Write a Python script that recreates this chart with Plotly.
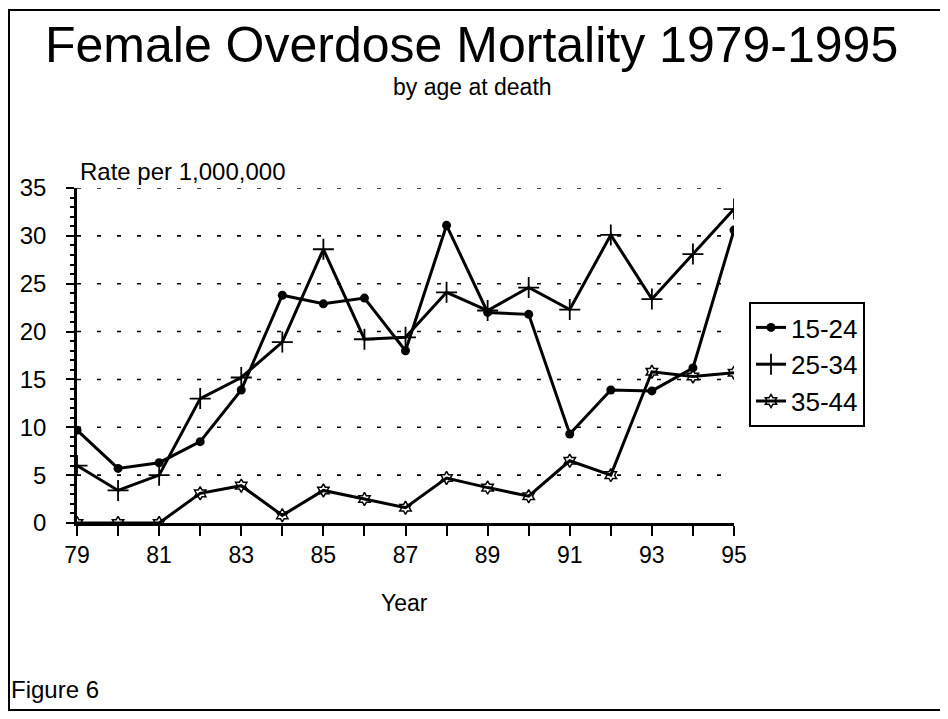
import plotly.graph_objects as go

years = list(range(79, 96))
x_tick_labels = ["79", "", "81", "", "83", "", "85", "", "87", "", "89", "", "91", "", "93", "", "95"]
y_tick_values = [0, 5, 10, 15, 20, 25, 30, 35]
y_grid_values = [5, 10, 15, 20, 25, 30, 35]

age_15_24 = [9.7, 5.7, 6.3, 8.5, 13.9, 23.8, 22.9, 23.5, 18.0, 31.1, 22.0, 21.8, 9.3, 13.9, 13.8, 16.2, 30.6]
age_25_34 = [6.0, 3.4, 5.0, 13.0, 15.2, 18.9, 28.6, 19.2, 19.4, 24.1, 22.2, 24.6, 22.3, 30.1, 23.4, 28.1, 32.8]
age_35_44 = [0.0, 0.0, 0.0, 3.1, 3.9, 0.8, 3.4, 2.5, 1.6, 4.7, 3.7, 2.8, 6.5, 5.0, 15.8, 15.3, 15.7]

FONT = "Liberation Sans, Arial, Helvetica, sans-serif"
OFF = 8  # page body margin
W, H = 940, 711
PX0, PX1 = 77, 734   # page x of plot area
PY0, PY1 = 188, 523  # page y of plot area (top, bottom)
L = PX0 - OFF
T = PY0 - OFF
PW = PX1 - PX0
PH = PY1 - PY0
R = W - L - PW
B = H - T - PH

def px(x):
    return (x - PX0) / PW

def py(y):
    return (PY1 - y) / PH

fig = go.Figure()
fig.add_trace(go.Scatter(x=years, y=age_15_24, name="15-24", mode="lines+markers",
                         line=dict(color="black", width=3),
                         marker=dict(symbol="circle", size=9, color="black")))
fig.add_trace(go.Scatter(x=years, y=age_25_34, name="25-34", mode="lines+markers",
                         line=dict(color="black", width=3),
                         marker=dict(symbol="cross-thin-open", size=15, color="black",
                                     line=dict(color="black", width=1.8))))
fig.add_trace(go.Scatter(x=years, y=age_35_44, name="35-44", mode="lines+markers",
                         line=dict(color="black", width=3),
                         marker=dict(symbol="hexagram-open", size=10, color="black",
                                     line=dict(color="black", width=1.5))))

shapes = []
for v in y_grid_values:
    shapes.append(dict(type="line", xref="paper", yref="y", x0=0, x1=0.985, y0=v, y1=v,
                       line=dict(color="black", width=1.6, dash="4px,16px"), layer="below"))
shapes.append(dict(type="rect", xref="paper", yref="paper",
                   x0=px(OFF + 1), x1=px(943), y0=py(710), y1=py(OFF + 2),
                   line=dict(color="black", width=2)))

annotations = [
    dict(text="Female Overdose Mortality 1979-1995", x=px(471), y=py(45), xref="paper", yref="paper",
         showarrow=False, xanchor="center", yanchor="middle", font=dict(family=FONT, size=50, color="black")),
    dict(text="by age at death", x=px(472), y=py(87), xref="paper", yref="paper",
         showarrow=False, xanchor="center", yanchor="middle", font=dict(family=FONT, size=23, color="black")),
    dict(text="Rate per 1,000,000", x=px(78), y=py(171), xref="paper", yref="paper",
         showarrow=False, xanchor="left", yanchor="middle", font=dict(family=FONT, size=24, color="black")),
    dict(text="Year", x=px(404), y=py(603), xref="paper", yref="paper",
         showarrow=False, xanchor="center", yanchor="middle", font=dict(family=FONT, size=23, color="black")),
    dict(text="Figure 6", x=px(OFF + 1), y=py(689), xref="paper", yref="paper",
         showarrow=False, xanchor="left", yanchor="middle", font=dict(family=FONT, size=24, color="black")),
]

fig.update_layout(
    width=W, height=H,
    margin=dict(l=L, r=R, t=T, b=B, pad=0),
    paper_bgcolor="white", plot_bgcolor="white",
    font=dict(family=FONT, size=23, color="black"),
    showlegend=True,
    legend=dict(x=px(749), y=py(302), xanchor="left", yanchor="top",
                bordercolor="black", borderwidth=2, bgcolor="white",
                font=dict(family=FONT, size=26, color="black"),
                itemwidth=30, tracegroupgap=0),
    shapes=shapes,
    annotations=annotations,
    xaxis=dict(range=[79, 95], tickvals=years, ticktext=x_tick_labels,
               showgrid=False, zeroline=False, showline=True, linecolor="black", linewidth=2.5,
               ticks="outside", ticklen=10, tickwidth=2, tickcolor="black",
               tickfont=dict(family=FONT, size=23, color="black")),
    yaxis=dict(range=[0, 35], tickvals=y_tick_values,
               showgrid=False, zeroline=False, showline=True, linecolor="black", linewidth=2.5,
               ticks="outside", ticklen=8, tickwidth=2, tickcolor="black",
               ticklabelstandoff=15,
               minor=dict(dtick=1, ticks="outside", ticklen=4, tickwidth=1.5, tickcolor="black"),
               tickfont=dict(family=FONT, size=24, color="black")),
)

fig.write_html("out.html")
